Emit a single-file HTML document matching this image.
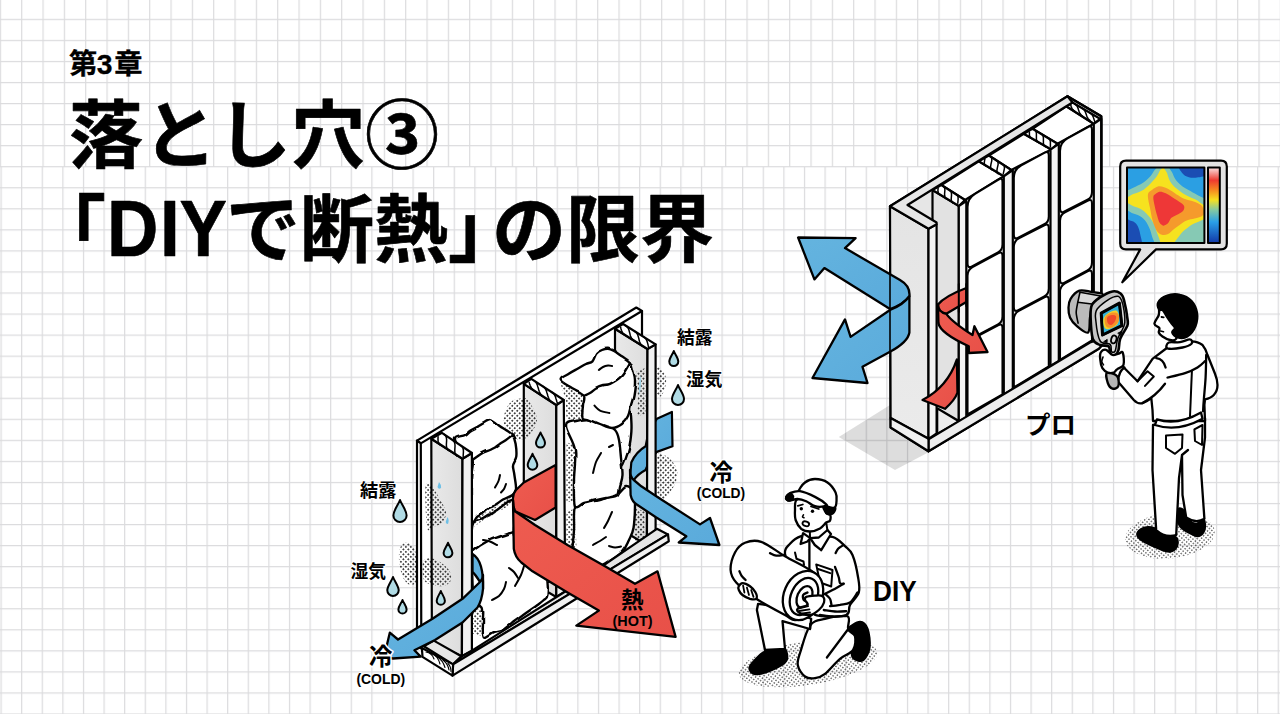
<!DOCTYPE html>
<html lang="ja">
<head>
<meta charset="utf-8">
<title>第3章 落とし穴③ 「DIYで断熱」の限界</title>
<style>
html,body{margin:0;padding:0;background:#fff;}
body{width:1280px;height:714px;overflow:hidden;position:relative;font-family:"Liberation Sans","Noto Sans CJK JP",sans-serif;}
svg{position:absolute;left:0;top:0;display:block;}
text{font-family:"Liberation Sans","Noto Sans CJK JP",sans-serif;}
</style>
</head>
<body>
<svg width="1280" height="714" viewBox="0 0 1280 714">
<defs>
<pattern id="grid" width="21.333" height="21.05" patternUnits="userSpaceOnUse" x="-0.2" y="-2.25">
<path d="M0.5 0V21.05M0 0.5H21.333" stroke="#dbdbdd" stroke-width="1.4" fill="none"/>
</pattern>
<pattern id="grid2" width="20.6" height="21.05" patternUnits="userSpaceOnUse" x="0.5" y="-2.25">
<path d="M0.5 0V21.05M0 0.5H20.6" stroke="#dbdbdd" stroke-width="1.4" fill="none"/>
</pattern>
<pattern id="dots" width="3.1" height="3.1" patternUnits="userSpaceOnUse" patternTransform="rotate(45)">
<circle cx="1.55" cy="1.55" r="0.66" fill="#000"/>
</pattern>
<pattern id="dots2" width="3.5" height="3.5" patternUnits="userSpaceOnUse" patternTransform="rotate(45)">
<circle cx="1.75" cy="1.75" r="0.85" fill="#000"/>
</pattern>
<linearGradient id="gface" x1="0" y1="0" x2="1" y2="0">
<stop offset="0" stop-color="#e9e9e9"/><stop offset="1" stop-color="#dddddd"/>
</linearGradient>
<linearGradient id="gpanel" x1="0" y1="0" x2="0" y2="1">
<stop offset="0" stop-color="#e4e4e4"/><stop offset="1" stop-color="#ebebeb"/>
</linearGradient>
<linearGradient id="gblue" x1="0" y1="0" x2="1" y2="1">
<stop offset="0" stop-color="#64b4df"/><stop offset="1" stop-color="#5aaadb"/>
</linearGradient>
<linearGradient id="gred" x1="0" y1="0" x2="1" y2="1">
<stop offset="0" stop-color="#ee5c50"/><stop offset="1" stop-color="#e85048"/>
</linearGradient>
<linearGradient id="gbar" x1="0" y1="0" x2="0" y2="1">
<stop offset="0" stop-color="#fbe3e3"/><stop offset="0.17" stop-color="#ee3a30"/><stop offset="0.3" stop-color="#f58a20"/><stop offset="0.43" stop-color="#f5e020"/><stop offset="0.56" stop-color="#86c9a0"/><stop offset="0.72" stop-color="#2aa0e8"/><stop offset="1" stop-color="#1238a8"/>
</linearGradient>
<filter id="rough" x="-5%" y="-5%" width="110%" height="110%">
<feTurbulence type="fractalNoise" baseFrequency="0.07" numOctaves="1" seed="3" result="n"/>
<feDisplacementMap in="SourceGraphic" in2="n" scale="3.6" xChannelSelector="R" yChannelSelector="G"/>
</filter>
</defs>
<rect width="1280" height="714" fill="#ffffff"/>
<rect width="1280" height="167" fill="url(#grid)"/>
<rect y="167" width="1280" height="547" fill="url(#grid2)"/>
<!-- TITLE -->
<g id="title" fill="#000" stroke="#000" stroke-width="0.6" stroke-linejoin="round" font-weight="700">
<text x="69 96.8 114.2" y="73.6" font-size="28.3" stroke-width="0.3">第3章</text>
<text x="69" y="162" font-size="74">落とし穴③</text>
<text y="255.5" font-size="74"><tspan x="32">「</tspan><tspan x="226">で断熱」</tspan><tspan x="492">の限界</tspan></text>
<text transform="scale(0.9 1)" x="119 177.9 199.4" y="255.7" font-size="79">DIY</text>
</g>
<!-- DIY WALL -->
<g id="diywall" stroke="#000" stroke-width="2.2" stroke-linejoin="round" stroke-linecap="round" fill="none">
<!-- back sheathing -->
<polygon points="417,440.6 636.3,307.5 642,311 642,545 470,660 417,648" fill="#fff" stroke="none"/>
<polygon points="417,440.6 636.3,307.5 642,311 420.8,443.4" fill="#fff"/>
<polygon points="417,440.6 420.8,443.4 421.3,648.5 417,646" fill="#fff"/>
<path d="M642,311 V338"/>
<!-- halftone patches on back panel -->
<g stroke="none" fill="url(#dots2)">
<path d="M505.0,412.0 C506.3,408.2 508.8,403.2 512.0,401.0 C515.2,398.8 520.5,397.8 524.0,399.0 C527.5,400.2 530.8,404.3 533.0,408.0 C535.2,411.7 537.3,416.8 537.0,421.0 C536.7,425.2 533.8,429.8 531.0,433.0 C528.2,436.2 523.5,439.8 520.0,440.0 C516.5,440.2 512.7,436.7 510.0,434.0 C507.3,431.3 504.8,427.7 504.0,424.0 C503.2,420.3 503.7,415.8 505.0,412.0Z"/>
</g>
<!-- END STUD (right) gray face -->
<polygon points="615,328.8 647.5,349 646.9,545 615,526" fill="url(#gface)"/>
<!-- right blue arrow: back piece -->
<path d="M671.9,411.9 L656.9,418.8 Q648,430 645.6,446.3 Q636,452 631.3,462.5 L630,478 L633.8,480 Q638,474 645.6,470 Q650,458 656.9,451.9 L672.5,446.3 Z" fill="url(#gblue)"/>
<!-- end stud narrow face + cap -->
<polygon points="647.5,349 655.6,344.4 655.6,540 646.9,545" fill="#f1f1f1"/>
<polygon points="615,328.8 623.1,324 655.6,344.4 647.5,349" fill="#fff"/>
<path d="M620.7,327.4 L621.0,328.9 L621.4,330.3 L622.0,331.6 L622.6,332.9 L623.6,334.0 L624.8,334.9 M625.7,325.6 L626.9,326.6 L627.8,327.7 L628.5,328.9 L629.0,330.3 L629.4,331.7 L629.8,333.1 L630.1,334.6 L630.5,336.0 L631.1,337.3 L631.7,338.6 L632.7,339.7 L633.9,340.6 M634.8,331.3 L636.0,332.3 L636.9,333.4 L637.6,334.6 L638.1,336.0 L638.5,337.4 L638.9,338.8 L639.2,340.3 L639.6,341.7 L640.2,343.0 L640.8,344.3 L641.8,345.4 L643.0,346.3 M643.9,337.1 L645.1,338.0 L646.0,339.1 L646.7,340.4 L647.2,341.7 L647.6,343.1 L648.0,344.6 L648.3,346.0 L648.7,347.4" stroke-width="1.5"/>
<!-- BAY 2 batts -->
<g fill="#fff" filter="url(#rough)" stroke-width="2.4">
<!-- B2c bottom -->
<path d="M575.0,507.0 C577.0,502.5 581.8,504.2 586.0,503.0 C590.2,501.8 594.8,501.5 600.0,500.0 C605.2,498.5 612.7,496.3 617.0,494.0 C621.3,491.7 623.2,486.3 626.0,486.0 C628.8,485.7 632.5,488.8 634.0,492.0 C635.5,495.2 635.1,499.0 635.0,505.0 C634.9,511.0 634.5,522.2 633.5,528.0 C632.5,533.8 630.9,536.0 629.0,540.0 C627.1,544.0 626.0,548.0 622.0,552.0 C618.0,556.0 610.3,560.7 605.0,564.0 C599.7,567.3 595.0,569.0 590.0,572.0 C585.0,575.0 578.0,584.0 575.0,582.0 C572.0,580.0 572.2,568.7 572.0,560.0 C571.8,551.3 573.5,538.8 574.0,530.0 C574.5,521.2 573.0,511.5 575.0,507.0Z"/>
<!-- B2x filler behind B2b -->
<path d="M610.0,424.0 C611.3,421.2 618.8,421.7 622.0,419.0 C625.2,416.3 627.9,407.0 629.5,408.0 C631.1,409.0 631.3,419.7 631.5,425.0 C631.7,430.3 631.1,435.5 630.5,440.0 C629.9,444.5 629.5,447.5 628.0,452.0 C626.5,456.5 623.3,467.0 621.5,467.0 C619.7,467.0 618.2,457.2 617.0,452.0 C615.8,446.8 615.2,440.7 614.0,436.0 C612.8,431.3 608.7,426.8 610.0,424.0Z"/>
<!-- B2b middle -->
<path d="M566.0,426.0 C566.2,421.2 572.0,422.1 576.0,421.0 C580.0,419.9 585.5,419.2 590.0,419.5 C594.5,419.8 598.8,421.2 603.0,423.0 C607.2,424.8 612.3,427.2 615.0,430.0 C617.7,432.8 618.0,435.3 619.0,440.0 C620.0,444.7 620.4,452.2 621.0,458.0 C621.6,463.8 622.7,470.3 622.5,475.0 C622.3,479.7 620.8,482.7 620.0,486.0 C619.2,489.3 619.8,493.0 617.5,495.0 C615.2,497.0 609.8,497.1 606.0,498.0 C602.2,498.9 598.7,499.7 595.0,500.5 C591.3,501.3 587.3,502.1 584.0,503.0 C580.7,503.9 576.7,509.8 575.0,506.0 C573.3,502.2 574.0,489.3 574.0,480.0 C574.0,470.7 576.3,459.0 575.0,450.0 C573.7,441.0 565.8,430.8 566.0,426.0Z"/>
<!-- B2a top: top face + front -->
<path d="M560.6,380.0 C560.1,377.6 566.0,375.7 568.8,373.8 C571.6,371.9 574.6,370.4 577.5,368.8 C580.4,367.2 583.5,365.2 586.0,364.0 C588.5,362.8 590.8,363.0 592.5,361.3 C594.2,359.6 594.7,355.7 596.3,353.8 C597.9,351.9 600.0,350.8 602.0,350.0 C604.0,349.2 606.0,348.6 608.0,348.8 C610.0,349.0 612.0,350.0 614.0,351.0 C616.0,352.0 617.3,353.1 620.0,355.0 C622.7,356.9 627.8,359.8 630.0,362.5 C632.2,365.2 632.2,367.9 633.0,371.0 C633.8,374.1 634.9,376.8 635.0,381.0 C635.1,385.2 634.2,392.0 633.5,396.0 C632.8,400.0 631.9,401.7 631.0,405.0 C630.1,408.3 629.5,412.8 628.0,416.0 C626.5,419.2 624.7,422.0 622.0,424.0 C619.3,426.0 615.7,428.0 612.0,428.0 C608.3,428.0 604.0,425.5 600.0,424.0 C596.0,422.5 590.9,420.1 588.0,419.0 C585.1,417.9 583.3,419.7 582.5,417.5 C581.7,415.3 582.8,409.8 583.0,406.0 C583.2,402.2 585.6,398.0 583.8,395.0 C582.0,392.0 575.9,390.5 572.0,388.0 C568.1,385.5 561.1,382.4 560.6,380.0Z"/>
<path d="M630.0,362.5 C628.5,364.8 624.6,372.8 621.3,376.3 C618.0,379.9 613.0,382.4 610.0,383.8 C607.0,385.2 605.3,384.4 603.0,385.0 C600.7,385.6 598.5,386.3 596.3,387.5 C594.1,388.7 592.1,390.8 590.0,392.0 C587.9,393.2 584.8,394.5 583.8,395.0" fill="none"/>
</g>
<path d="M560.6,381.0 C561.7,379.1 568.1,386.0 572.0,388.5 C575.9,391.0 582.0,392.9 583.8,396.0 C585.6,399.1 583.2,403.3 583.0,407.0 C582.8,410.7 584.0,415.8 582.5,418.0 C581.0,420.2 576.6,419.9 574.0,420.0 C571.4,420.1 568.4,421.8 567.0,418.5 C565.6,415.2 566.6,406.2 565.5,400.0 C564.4,393.8 559.5,382.9 560.6,381.0Z" fill="url(#dots2)" stroke="none"/>
<path d="M566.5,442 L575,446 L575.5,502 L566.5,502 Z M566.5,511 L575,509 L576.5,548 L566.5,549 Z" fill="url(#dots2)" stroke="none"/>
<path d="M636,372 L645,368 L645.5,414 L637,416 Q639,395 636,372 Z M634.5,507 L645,512 L645,542 L635,543 Z" fill="url(#dots2)" stroke="none"/>
<g stroke-width="2">
<path d="M598.8,370.0 C599.5,369.5 601.5,367.7 603.0,367.0 C604.5,366.3 606.5,365.8 608.0,365.6 C609.5,365.4 611.3,365.9 612.0,366.0"/>
<path d="M594.4,405.6 C595.3,406.4 597.5,409.4 600.0,410.6 C602.5,411.8 607.8,412.6 609.4,413.0"/>
<path d="M593.0,473.0 C593.5,471.2 594.7,465.3 596.0,462.0 C597.3,458.7 600.2,454.5 601.0,453.0"/><path d="M609,447 l4,-2"/>
<path d="M604.0,528.0 C604.7,526.8 606.7,523.7 608.0,521.0 C609.3,518.3 611.3,513.5 612.0,512.0"/><path d="M593.0,545.0 C594.2,544.3 597.8,542.3 600.0,541.0 C602.2,539.7 605.0,537.7 606.0,537.0"/><path d="M609.0,546.0 C610.0,546.2 613.0,547.4 615.0,547.5 C617.0,547.6 620.0,546.7 621.0,546.5"/>
</g>
<!-- MID STUD gray face -->
<polygon points="523.8,383.8 556.3,405 556.3,597 523.8,578" fill="url(#gface)"/>
<!-- BAY 1 batts -->
<g fill="#fff" filter="url(#rough)" stroke-width="2.4">
<!-- B1b lower block (top face + front) -->
<path d="M472.5,525.0 C474.3,518.0 478.9,520.5 483.0,518.0 C487.1,515.5 492.1,513.0 497.0,510.0 C501.9,507.0 509.3,499.2 512.5,500.0 C515.7,500.8 515.8,509.7 516.0,515.0 C516.2,520.3 513.0,526.5 514.0,532.0 C515.0,537.5 518.5,543.3 522.0,548.0 C525.5,552.7 531.0,555.5 535.0,560.0 C539.0,564.5 543.9,569.2 546.0,575.0 C548.1,580.8 547.9,590.8 547.5,595.0 C547.1,599.2 545.5,598.3 543.8,600.0 C542.1,601.7 540.5,602.8 537.5,605.0 C534.5,607.2 529.8,610.3 526.0,613.0 C522.2,615.7 518.7,618.5 515.0,621.3 C511.3,624.1 507.3,628.0 503.8,630.0 C500.3,632.0 497.3,631.8 494.0,633.0 C490.7,634.2 485.6,639.7 483.8,637.5 C482.0,635.3 483.2,625.0 483.0,620.0 C482.8,615.0 484.0,610.8 482.5,607.5 C481.0,604.2 475.8,607.9 474.0,600.0 C472.2,592.1 472.2,572.5 472.0,560.0 C471.8,547.5 470.7,532.0 472.5,525.0Z"/>
<path d="M472.5,551.0 C473.9,550.0 478.1,546.8 481.0,545.0 C483.9,543.2 486.8,541.4 490.0,540.0 C493.2,538.6 496.2,537.8 500.0,536.5 C503.8,535.2 510.4,533.2 512.5,532.5" fill="none"/>
<!-- B1a upper block -->
<path d="M455.0,438.8 C455.5,436.3 462.4,436.4 465.0,435.0 C467.6,433.6 468.4,431.9 470.5,430.5 C472.6,429.1 475.2,428.1 477.5,426.9 C479.8,425.6 481.9,424.1 484.0,423.0 C486.1,421.9 488.2,420.1 490.0,420.0 C491.8,419.9 493.3,421.4 495.0,422.5 C496.7,423.6 498.2,425.1 500.0,426.3 C501.8,427.6 503.9,428.6 506.0,430.0 C508.1,431.4 510.9,432.7 512.5,435.0 C514.1,437.3 515.0,440.2 515.6,443.8 C516.2,447.4 516.7,452.8 516.3,456.3 C515.9,459.8 513.3,461.9 513.0,465.0 C512.7,468.1 513.9,471.0 514.4,475.0 C514.9,479.0 516.3,485.7 516.0,489.0 C515.7,492.3 514.7,493.2 512.5,495.0 C510.3,496.8 505.9,497.8 503.0,499.5 C500.1,501.2 497.5,503.6 495.0,505.0 C492.5,506.4 490.1,506.8 488.0,508.0 C485.9,509.2 484.3,511.2 482.5,512.5 C480.7,513.8 478.8,514.8 477.0,516.0 C475.2,517.2 473.0,526.0 472.0,520.0 C471.0,514.0 470.9,490.0 471.0,480.0 C471.1,470.0 474.0,465.0 472.5,460.0 C471.0,455.0 464.9,453.5 462.0,450.0 C459.1,446.5 454.5,441.3 455.0,438.8Z"/>
<path d="M512.5,435.0 C511.4,435.8 508.1,438.5 506.0,440.0 C503.9,441.5 501.8,442.6 500.0,443.8 C498.2,445.1 496.7,446.5 495.0,447.5 C493.3,448.5 492.3,448.9 490.0,450.0 C487.7,451.1 484.2,452.1 481.3,453.8 C478.4,455.5 474.0,459.0 472.5,460.0" fill="none"/>
</g>
<path d="M472.5,521.5 C474.2,519.2 478.9,516.6 483.0,514.0 C487.1,511.4 492.1,508.9 497.0,506.0 C501.9,503.1 509.7,497.2 512.5,496.5 C515.3,495.8 516.6,499.3 514.0,502.0 C511.4,504.7 502.2,509.4 497.0,512.5 C491.8,515.6 487.1,518.0 483.0,520.5 C478.9,523.0 474.2,527.3 472.5,527.5 C470.8,527.7 470.8,523.8 472.5,521.5Z" fill="url(#dots2)" stroke="none"/>
<path d="M472.5,611 L482.5,608 L483.5,636 L472.5,634 Z" fill="url(#dots2)" stroke="none"/>
<g stroke-width="2">
<path d="M500.0,475.0 C499.8,476.0 499.3,478.9 498.5,481.0 C497.7,483.1 495.6,486.4 495.0,487.5"/><path d="M506.0,484.0 C505.7,484.8 504.8,487.6 504.0,489.0 C503.2,490.4 501.5,491.9 501.0,492.5"/>
<path d="M483.0,540.0 C484.2,540.2 487.7,540.7 490.0,541.5 C492.3,542.3 495.8,544.4 497.0,545.0"/>
<path d="M492.0,600.0 C493.2,599.3 497.0,597.8 499.0,596.0 C501.0,594.2 502.8,591.3 504.0,589.0 C505.2,586.7 505.7,583.2 506.0,582.0"/><path d="M509.0,568.0 C509.8,568.7 512.5,570.3 514.0,572.0 C515.5,573.7 517.3,577.0 518.0,578.0"/>
<path d="M515.0,586.0 C516.0,584.2 519.5,578.3 521.0,575.0 C522.5,571.7 523.5,567.5 524.0,566.0"/>
</g>
<!-- halftone on mid stud face -->
<path d="M524.8,399.0 C526.2,394.2 531.0,404.3 533.0,408.0 C535.0,411.7 537.3,416.8 537.0,421.0 C536.7,425.2 533.0,430.3 531.0,433.0 C529.0,435.7 525.8,442.7 524.8,437.0 C523.8,431.3 523.4,403.8 524.8,399.0Z" fill="url(#dots2)" stroke="none"/>
<!-- red arrow back piece -->
<path d="M555.6,465 L523.8,482.5 L516,490 Q512.5,494 513,500 Q513,507 515,511.3 L535,520 L555.6,507.5 Z" fill="url(#gred)"/>
<!-- mid stud narrow face + cap -->
<polygon points="556.3,405 563.8,400 565.2,591.5 556.3,597" fill="#f1f1f1"/>
<polygon points="523.8,383.8 531.3,378.8 563.8,400 556.3,405" fill="#fff"/>
<path d="M529.2,382.4 L529.6,383.9 L530.1,385.3 L530.7,386.7 L531.4,388.0 L532.3,389.2 L533.5,390.2 M533.9,380.5 L535.1,381.5 L536.1,382.6 L536.8,383.9 L537.4,385.3 L537.8,386.8 L538.3,388.3 L538.7,389.8 L539.2,391.3 L539.8,392.7 L540.5,394.0 L541.4,395.1 L542.6,396.1 M543.0,386.4 L544.2,387.4 L545.2,388.6 L545.9,389.9 L546.5,391.3 L546.9,392.7 L547.4,394.2 L547.8,395.7 L548.3,397.2 L548.9,398.6 L549.6,399.9 L550.5,401.1 L551.8,402.0 M552.1,392.4 L553.3,393.3 L554.3,394.5 L555.0,395.8 L555.6,397.2 L556.0,398.7 L556.5,400.2 L556.9,401.7 L557.4,403.1" stroke-width="1.5"/>
<!-- LEFT STUD -->
<polygon points="431.3,438.8 462.5,458.8 461.9,656.3 431.9,641.9" fill="url(#gface)"/>
<polygon points="462.5,458.8 471.9,453 471.9,650.6 461.9,656.3" fill="#f1f1f1"/>
<polygon points="431.3,438.8 441.9,432.8 471.9,453 462.5,458.8" fill="#fff"/>
<path d="M438.1,436.8 L438.0,438.4 L438.0,439.9 L438.2,441.4 L438.6,442.7 L439.3,443.9 L440.3,444.9 M444.3,434.4 L445.3,435.4 L446.0,436.5 L446.4,437.9 L446.6,439.3 L446.6,440.9 L446.5,442.5 L446.4,444.1 L446.4,445.6 L446.6,447.1 L447.0,448.4 L447.7,449.6 L448.7,450.5 M452.7,440.1 L453.7,441.0 L454.4,442.2 L454.8,443.5 L455.0,445.0 L455.0,446.5 L454.9,448.1 L454.8,449.7 L454.8,451.2 L455.0,452.7 L455.4,454.0 L456.1,455.2 L457.1,456.2 M461.1,445.7 L462.1,446.7 L462.8,447.9 L463.2,449.2 L463.4,450.7 L463.4,452.2 L463.3,453.8 L463.2,455.4 L463.2,456.9" stroke-width="1.5"/>
<!-- halftone on left stud & outside -->
<g stroke="none" fill="url(#dots2)">
<path d="M426.0,484.0 C427.2,481.2 430.7,485.5 433.0,488.0 C435.3,490.5 437.8,494.9 440.0,499.0 C442.2,503.1 445.7,508.5 446.0,512.5 C446.3,516.5 444.2,520.6 442.0,523.0 C439.8,525.4 435.4,526.0 433.0,527.0 C430.6,528.0 428.8,532.7 427.5,529.0 C426.2,525.3 425.8,512.5 425.5,505.0 C425.2,497.5 424.8,486.8 426.0,484.0Z"/>
<path d="M423.0,562.0 C424.0,558.3 427.2,558.0 430.0,558.0 C432.8,558.0 436.8,560.0 440.0,562.0 C443.2,564.0 447.2,567.0 449.0,570.0 C450.8,573.0 451.8,577.3 451.0,580.0 C450.2,582.7 447.0,585.2 444.0,586.0 C441.0,586.8 436.3,586.0 433.0,585.0 C429.7,584.0 425.7,583.8 424.0,580.0 C422.3,576.2 422.0,565.7 423.0,562.0Z"/>
<path d="M400.0,548.0 C401.0,545.2 403.2,543.5 405.0,543.0 C406.8,542.5 409.2,543.5 411.0,545.0 C412.8,546.5 414.7,547.8 415.5,552.0 C416.3,556.2 416.0,564.8 416.0,570.0 C416.0,575.2 416.8,580.7 415.5,583.0 C414.2,585.3 410.2,585.3 408.0,584.0 C405.8,582.7 403.5,579.0 402.0,575.0 C400.5,571.0 399.3,564.5 399.0,560.0 C398.7,555.5 399.0,550.8 400.0,548.0Z"/>
</g>
<!-- BOTTOM PLATE -->
<polygon points="423.8,646.3 433.8,640.6 461.3,656.3 453.1,664.4" fill="#e6e6e6"/>
<polygon points="471.9,650.6 565.2,591.5 656.9,528.8 668,534.4 453.1,664.4 461.9,656.3" fill="#e6e6e6"/>
<polygon points="453.1,664.4 668,534.4 668.8,541.3 452.5,675.6" fill="#f0f0f0"/>
<polygon points="421.9,648 453.1,664.4 452.5,675.6 422.5,656.9" fill="#fff"/>
<path d="M426,652 q6,1 8,7 M431,653 q7,3 9,11 M437,656.5 q6,4 8,11 M443,660 q5,4 6,10 M448,663.5 q3,3 3,8" stroke-width="1.1"/>
<!-- halftone outside right of end stud -->
<g stroke="none" fill="url(#dots2)">
<path d="M657.0,368.0 C657.8,364.0 660.5,368.3 662.0,370.0 C663.5,371.7 665.5,375.0 666.0,378.0 C666.5,381.0 665.8,385.0 665.0,388.0 C664.2,391.0 662.3,395.0 661.0,396.0 C659.7,397.0 657.7,398.7 657.0,394.0 C656.3,389.3 656.2,372.0 657.0,368.0Z"/>
<path d="M657.0,456.0 C658.2,451.8 661.7,454.3 664.0,455.0 C666.3,455.7 668.8,457.5 671.0,460.0 C673.2,462.5 676.2,466.3 677.0,470.0 C677.8,473.7 677.2,478.3 676.0,482.0 C674.8,485.7 672.0,489.2 670.0,492.0 C668.0,494.8 666.0,498.0 664.0,499.0 C662.0,500.0 659.2,501.2 658.0,498.0 C656.8,494.8 657.2,487.0 657.0,480.0 C656.8,473.0 655.8,460.2 657.0,456.0Z"/>
</g>
</g>

<!-- DIY ARROWS -->
<g id="diyarrows" stroke="#000" stroke-width="2.3" stroke-linejoin="round" stroke-linecap="round">
<!-- right blue arrow front piece -->
<path d="M630,470 L630.6,495 Q632,502 637.5,505 L656.3,517.5 L686.3,536.3 L678.8,542.5 L719.4,545 L710,518 L700,524.4 L656.3,496.3 L641.3,486.3 L633.8,480 Q630,477 630,470 Z" fill="url(#gblue)"/>
<!-- left blue arrow -->
<path d="M472.5,554 Q484,561 483,589 L480,582 Q475,574 472.5,572 Z" fill="url(#gblue)"/>
<path d="M483,575 L483,588.8 Q482,600 477.5,607.5 L462.5,622.5 L435,640 L414.4,650.3 L420.7,656.6 L393,658.5 L384,657 L389.8,632.7 L398,639.5 L432.5,618.8 L462.5,598.8 L480,582 Q483,579 483,575 Z" fill="url(#gblue)"/>
<!-- red arrow front piece -->
<path d="M513,500 L513.8,548.8 Q515,557 521.3,562.5 L532.5,571.3 L567.5,592.5 L598.8,610.6 L576.3,625.6 L675.6,636.9 L657.5,571.3 L635,583.8 L605,566.3 L567.5,545 L535,525 L515,511.3 Q513,507 513,500 Z" fill="url(#gred)"/>
</g>

<!-- PRO WALL -->
<g id="prowall" stroke="#000" stroke-width="2.2" stroke-linejoin="round" stroke-linecap="round" fill="none">
<!-- floor shadow -->
<polygon points="838.8,437 890,405 930,451.5 895,470" fill="#000" fill-opacity="0.135" stroke="none"/>
<!-- wall silhouette (back) -->
<polygon points="890,206.3 1067.5,96.3 1101.3,116.3 1101.3,346 1098.8,348.8 928.5,451.3 890.6,427.5" fill="#e6e6e6"/>
<!-- stud 1 side face (gray) -->
<polygon points="932.5,190 958.8,205.8 958.8,421 937.5,408.5 932.5,408" fill="#e2e2e2"/>
<polygon points="937.5,408.8 957.5,420.8 957.5,422 937.5,433.5" fill="#ececec" stroke-width="1.6"/>
<!-- white top faces of insulation columns -->
<polygon points="941.3,185 978.8,161.3 1003.8,176.3 965,200" fill="#fff"/>
<polygon points="988.8,155.5 1023.8,133.8 1051.3,149.5 1011.3,170" fill="#fff"/>
<polygon points="1032.5,128.8 1066.3,106.3 1093.8,123.8 1057.5,143.8" fill="#fff"/>
<!-- stud caps -->
<g fill="#fff">
<polygon points="932.5,190 941.3,185 965,200 958.8,206"/>
<polygon points="978.8,161.3 988.8,155.5 1011.3,170 1003.8,176.3"/>
<polygon points="1023.8,133.8 1032.5,128.8 1057.5,143.8 1051.3,149.5"/>
<polygon points="1066.3,106.3 1072.5,102.5 1100,118.8 1093.8,123.8"/>
</g>
<g stroke-width="1.5">
<path d="M938.1,188.2 L938.0,189.5 L937.9,190.7 L938.0,191.8 L938.3,192.9 L938.8,193.8 L939.6,194.5 M943.2,186.2 L944.0,186.9 L944.5,187.8 L944.8,188.9 L944.9,190.0 L944.8,191.2 L944.7,192.4 L944.6,193.7 L944.6,194.9 L944.7,196.0 L944.9,197.1 L945.4,198.0 L946.2,198.7 M949.8,190.4 L950.6,191.1 L951.2,192.0 L951.4,193.1 L951.5,194.2 L951.5,195.4 L951.4,196.7 L951.3,197.9 L951.2,199.1 L951.3,200.2 L951.6,201.3 L952.1,202.2 L952.9,202.9 M956.5,194.6 L957.3,195.3 L957.8,196.2 L958.1,197.3 L958.1,198.4 L958.1,199.6 L958.0,200.8 L957.9,202.1 L957.8,203.3"/>
<path d="M984.9,159.1 L984.6,160.4 L984.4,161.7 L984.3,162.9 L984.4,164.0 L984.8,164.9 L985.5,165.7 M990.6,156.7 L991.3,157.4 L991.7,158.3 L991.8,159.4 L991.8,160.6 L991.5,161.9 L991.2,163.2 L990.9,164.5 L990.7,165.8 L990.6,167.0 L990.7,168.1 L991.1,169.0 L991.8,169.7 M996.9,160.7 L997.6,161.4 L998.0,162.4 L998.1,163.4 L998.1,164.6 L997.8,165.9 L997.5,167.2 L997.2,168.6 L997.0,169.8 L996.9,171.1 L997.0,172.1 L997.4,173.1 L998.1,173.8 M1003.2,164.8 L1003.9,165.5 L1004.3,166.4 L1004.4,167.5 L1004.4,168.7 L1004.1,170.0 L1003.8,171.3 L1003.5,172.6 L1003.3,173.9"/>
<path d="M1029.4,132.1 L1029.4,133.3 L1029.4,134.5 L1029.5,135.6 L1029.9,136.7 L1030.4,137.6 L1031.3,138.3 M1034.5,130.0 L1035.4,130.7 L1035.9,131.6 L1036.3,132.7 L1036.4,133.8 L1036.4,135.0 L1036.4,136.2 L1036.4,137.5 L1036.4,138.7 L1036.5,139.8 L1036.9,140.9 L1037.4,141.8 L1038.3,142.5 M1041.5,134.2 L1042.4,134.9 L1042.9,135.8 L1043.3,136.9 L1043.4,138.0 L1043.4,139.2 L1043.4,140.5 L1043.4,141.7 L1043.4,142.9 L1043.5,144.0 L1043.9,145.1 L1044.4,146.0 L1045.3,146.7 M1048.5,138.4 L1049.4,139.1 L1049.9,140.0 L1050.3,141.1 L1050.4,142.2 L1050.4,143.4 L1050.4,144.7 L1050.4,145.9 L1050.4,147.1"/>
<path d="M1070.8,105.2 L1071.2,106.4 L1071.6,107.5 L1072.1,108.6 L1072.7,109.6 L1073.5,110.4 L1074.5,111.2 M1074.7,103.8 L1075.7,104.6 L1076.5,105.4 L1077.2,106.4 L1077.7,107.5 L1078.1,108.6 L1078.5,109.8 L1078.9,110.9 L1079.3,112.1 L1079.8,113.1 L1080.4,114.1 L1081.2,115.0 L1082.2,115.8 M1082.4,108.4 L1083.4,109.1 L1084.2,110.0 L1084.9,111.0 L1085.4,112.1 L1085.8,113.2 L1086.2,114.3 L1086.6,115.5 L1087.0,116.6 L1087.5,117.7 L1088.1,118.7 L1088.9,119.6 L1090.0,120.3 M1090.1,112.9 L1091.1,113.7 L1091.9,114.6 L1092.6,115.6 L1093.1,116.6 L1093.5,117.8 L1093.9,118.9 L1094.3,120.1 L1094.7,121.2"/>
</g>
<!-- narrow faces of studs -->
<g fill="#f3f3f3">
<polygon points="958.8,206 966.3,201 966.3,417.5 958.8,421.5"/>
<polygon points="1003.8,176.3 1012.8,170 1012.8,389 1003.8,394.5"/>
<polygon points="1050.5,149.5 1058.8,143.8 1058.8,361 1050.5,366"/>
<polygon points="1093.8,123.8 1101.3,118.8 1101.3,336 1093.8,340.5"/>
</g>
<!-- insulation blocks -->
<g fill="#fff" stroke-width="2.1">
<path d="M967.5,207.0 Q967.5,198.5 975.0,193.9 L998.5,179.5 Q1002.5,177.0 1002.5,182.0 L1002.5,244.5 Q1002.5,250.0 998.0,252.4 L972.0,266.4 Q967.5,268.8 967.5,263.3 Z"/>
<path d="M967.5,275.8 Q967.5,269.8 972.5,267.1 L998.5,253.1 Q1002.5,251.0 1002.5,256.0 L1002.5,316.5 Q1002.5,322.0 998.0,324.4 L972.0,338.2 Q967.5,340.6 967.5,335.1 Z"/>
<path d="M967.5,347.4 Q967.5,341.4 972.5,338.8 L998.5,325.1 Q1002.5,323.0 1002.5,328.0 L1002.5,394.3 L967.5,414.5 Z"/>
<path d="M1013.8,178.0 Q1013.8,169.5 1021.3,165.4 L1044.8,152.7 Q1048.8,150.5 1048.8,155.5 L1048.8,216.5 Q1048.8,222.0 1044.3,224.3 L1018.3,237.7 Q1013.8,240.0 1013.8,234.5 Z"/>
<path d="M1013.8,247.0 Q1013.8,241.0 1018.8,238.4 L1044.8,225.1 Q1048.8,223.0 1048.8,228.0 L1048.8,288.5 Q1048.8,294.0 1044.3,296.4 L1018.3,310.1 Q1013.8,312.5 1013.8,307.0 Z"/>
<path d="M1013.8,319.5 Q1013.8,313.5 1018.8,310.9 L1044.8,297.1 Q1048.8,295.0 1048.8,300.0 L1048.8,366.5 L1013.8,387.5 Z"/>
<path d="M1060.0,151.0 Q1060.0,142.5 1067.5,138.4 L1088.0,127.0 Q1092.0,124.8 1092.0,129.8 L1092.0,192.0 Q1092.0,197.5 1087.5,199.8 L1064.5,211.5 Q1060.0,213.8 1060.0,208.3 Z"/>
<path d="M1060.0,220.8 Q1060.0,214.8 1065.0,212.3 L1088.0,200.5 Q1092.0,198.5 1092.0,203.5 L1092.0,262.5 Q1092.0,268.0 1087.5,270.4 L1064.5,282.6 Q1060.0,285.0 1060.0,279.5 Z"/>
<path d="M1060.0,292.0 Q1060.0,286.0 1065.0,283.3 L1088.0,271.1 Q1092.0,269.0 1092.0,274.0 L1092.0,340.5 L1060.0,359.8 Z"/>
</g>
<!-- bottom plate -->
<polygon points="928.5,439.4 1090,342.5 1101.3,339 1101.3,346 1098.8,348.8 928.5,451.3" fill="#ededed"/>
<!-- left gray end panel -->
<polygon points="890,206.3 928.5,228.8 928.5,438.8 890.6,418" fill="url(#gpanel)"/>
<polygon points="890.6,418 928.5,438.8 928.5,451.3 890.6,427.5" fill="#f0f0f0"/>
<polygon points="928.5,228.8 936.6,224.3 936.6,433.5 928.5,438.8" fill="#f4f4f4"/>
<!-- top bands (L-shaped trim) -->
<polygon points="890,206.3 1067.5,96.3 1072.5,102.5 1066.3,106.3 907.5,205 936.6,222.5 936.6,224.3 928.5,228.8" fill="#e6e6e6"/>
<polyline points="1067.5,96.3 1101.3,116.3 1101.3,346"/>
</g>

<!-- PRO ARROWS -->
<g id="proarrows" stroke="#000" stroke-width="2.3" stroke-linejoin="round" stroke-linecap="round">
<path d="M798.1,237.5 L855.6,238.1 L845,248.1 L900,280 Q910.5,286 909.4,296.3 Q903,305 890,309 L824.4,268.1 L814.4,279.4 Z" fill="url(#gblue)"/>
<path d="M909.4,296.3 L909.4,332.5 Q908,342 890,351.8 L862.5,366.8 L867.5,383 L812.5,378 L845,319.4 L850.6,336.9 L890,310 Q903,305 909.4,296.3 Z" fill="url(#gblue)"/>
<path d="M890,272 V352" stroke-width="1.6" fill="none"/>
<!-- red -->
<path d="M966.3,288 Q945,296 938,304.5 Q937,312 946.3,313.8 L966.3,302 Z" fill="url(#gred)"/>
<path d="M958.8,284 V312 M966.3,284 V306" fill="none" stroke-width="2"/>
<path d="M938,304.5 L938.4,323 Q940,333 968.8,346.3 L968.8,353 L987.5,352 L974.4,326.3 L972.5,335 C960,327 950,319 946.3,313.8 Q938,312 938,304.5 Z" fill="url(#gred)"/>
<path d="M956.9,359.4 C950,380 938,392 922.5,400 L945,408.8 Q955,400 957.5,392.5 Z" fill="url(#gred)"/>
</g>

<!-- THERMAL BUBBLE -->
<g id="bubble" stroke="#000" stroke-width="2.2" stroke-linejoin="round">
<path d="M1126,160.6 H1221 Q1226.8,160.6 1226.8,166.4 V243.6 Q1226.8,249.4 1221,249.4 H1156 L1122.3,282.3 L1140.2,249.4 H1126 Q1120.2,249.4 1120.2,243.6 V166.4 Q1120.2,160.6 1126,160.6 Z" fill="#e3e3e3"/>
<svg x="1127" y="167.5" width="77.4" height="75.5" viewBox="0 0 100 100" preserveAspectRatio="none">
<rect width="100" height="100" fill="#f6e21f" stroke="none"/>
<g stroke="none">
<path d="M-5.0,-5.0 C3.2,-12.2 36.2,-6.7 44.0,-5.0 C51.8,-3.3 43.3,1.7 42.0,5.0 C40.7,8.3 39.3,11.0 36.0,15.0 C32.7,19.0 26.7,25.7 22.0,29.0 C17.3,32.3 12.5,33.5 8.0,35.0 C3.5,36.5 -2.8,44.7 -5.0,38.0 C-7.2,31.3 -13.2,2.2 -5.0,-5.0Z" fill="#86c9b4"/>
<path d="M-5.0,-5.0 C2.0,-10.7 30.5,-6.8 37.0,-5.0 C43.5,-3.2 35.8,2.5 34.0,6.0 C32.2,9.5 29.3,13.0 26.0,16.0 C22.7,19.0 19.2,21.8 14.0,24.0 C8.8,26.2 -1.8,33.8 -5.0,29.0 C-8.2,24.2 -12.0,0.7 -5.0,-5.0Z" fill="#2b9fe3"/>
<path d="M50.0,-6.0 C41.0,-3.7 50.7,3.3 52.0,8.0 C53.3,12.7 54.7,17.7 58.0,22.0 C61.3,26.3 67.0,30.7 72.0,34.0 C77.0,37.3 82.3,39.7 88.0,42.0 C93.7,44.3 103.0,56.0 106.0,48.0 C109.0,40.0 115.3,3.0 106.0,-6.0 C96.7,-15.0 59.0,-8.3 50.0,-6.0Z" fill="#86c9b4"/>
<path d="M57.0,-6.0 C49.2,-3.7 57.5,3.7 59.0,8.0 C60.5,12.3 62.5,16.3 66.0,20.0 C69.5,23.7 73.3,26.8 80.0,30.0 C86.7,33.2 101.7,45.0 106.0,39.0 C110.3,33.0 114.2,1.5 106.0,-6.0 C97.8,-13.5 64.8,-8.3 57.0,-6.0Z" fill="#2b9fe3"/>
<path d="M68.0,-6.0 C62.2,-3.8 69.0,3.8 71.0,7.0 C73.0,10.2 76.5,12.0 80.0,13.0 C83.5,14.0 87.7,13.8 92.0,13.0 C96.3,12.2 103.7,11.2 106.0,8.0 C108.3,4.8 112.3,-3.7 106.0,-6.0 C99.7,-8.3 73.8,-8.2 68.0,-6.0Z" fill="#1b4db3"/>
<path d="M-6.0,50.0 C-3.3,41.0 5.3,50.7 10.0,52.0 C14.7,53.3 18.3,55.0 22.0,58.0 C25.7,61.0 29.3,65.7 32.0,70.0 C34.7,74.3 36.7,78.0 38.0,84.0 C39.3,90.0 47.3,102.3 40.0,106.0 C32.7,109.7 1.7,115.3 -6.0,106.0 C-13.7,96.7 -8.7,59.0 -6.0,50.0Z" fill="#86c9b4"/>
<path d="M-6.0,59.0 C-3.7,51.5 3.8,59.8 8.0,61.0 C12.2,62.2 15.8,63.5 19.0,66.0 C22.2,68.5 24.8,72.0 27.0,76.0 C29.2,80.0 31.0,85.0 32.0,90.0 C33.0,95.0 39.3,103.3 33.0,106.0 C26.7,108.7 0.5,113.8 -6.0,106.0 C-12.5,98.2 -8.3,66.5 -6.0,59.0Z" fill="#2b9fe3"/>
<path d="M-6.0,70.0 C-4.0,64.2 2.8,70.0 6.0,71.0 C9.2,72.0 11.2,73.2 13.0,76.0 C14.8,78.8 16.2,83.0 17.0,88.0 C17.8,93.0 21.8,103.0 18.0,106.0 C14.2,109.0 -2.0,112.0 -6.0,106.0 C-10.0,100.0 -8.0,75.8 -6.0,70.0Z" fill="#1b4db3"/>
<path d="M106.0,70.0 C103.3,64.5 94.7,71.3 90.0,73.0 C85.3,74.7 81.7,77.2 78.0,80.0 C74.3,82.8 70.7,85.7 68.0,90.0 C65.3,94.3 55.7,103.3 62.0,106.0 C68.3,108.7 98.7,112.0 106.0,106.0 C113.3,100.0 108.7,75.5 106.0,70.0Z" fill="#86c9b4"/>
<path d="M27.0,36.0 C27.5,31.7 30.8,30.8 33.0,29.0 C35.2,27.2 37.5,25.5 40.0,25.0 C42.5,24.5 45.3,25.2 48.0,26.0 C50.7,26.8 51.8,27.5 56.0,30.0 C60.2,32.5 68.0,38.5 73.0,41.0 C78.0,43.5 82.2,43.5 86.0,45.0 C89.8,46.5 93.8,47.8 96.0,50.0 C98.2,52.2 99.0,55.5 99.0,58.0 C99.0,60.5 99.5,63.0 96.0,65.0 C92.5,67.0 82.7,68.2 78.0,70.0 C73.3,71.8 71.0,74.0 68.0,76.0 C65.0,78.0 62.5,80.0 60.0,82.0 C57.5,84.0 55.5,86.8 53.0,88.0 C50.5,89.2 47.5,89.8 45.0,89.0 C42.5,88.2 40.0,86.2 38.0,83.0 C36.0,79.8 34.3,74.7 33.0,70.0 C31.7,65.3 31.0,60.7 30.0,55.0 C29.0,49.3 26.5,40.3 27.0,36.0Z" fill="#f59a2c"/>
<path d="M34.0,39.0 C34.3,36.0 36.5,35.2 38.0,34.0 C39.5,32.8 41.0,32.0 43.0,32.0 C45.0,32.0 47.5,32.8 50.0,34.0 C52.5,35.2 54.7,36.8 58.0,39.0 C61.3,41.2 67.3,44.8 70.0,47.0 C72.7,49.2 73.7,50.2 74.0,52.0 C74.3,53.8 73.7,56.2 72.0,58.0 C70.3,59.8 66.5,61.5 64.0,63.0 C61.5,64.5 58.8,65.2 57.0,67.0 C55.2,68.8 54.7,72.3 53.0,74.0 C51.3,75.7 48.8,77.2 47.0,77.0 C45.2,76.8 43.3,75.2 42.0,73.0 C40.7,70.8 40.0,67.5 39.0,64.0 C38.0,60.5 36.8,56.2 36.0,52.0 C35.2,47.8 33.7,42.0 34.0,39.0Z" fill="#ee3737"/>
</g>
</svg>
<rect x="1127" y="167.5" width="77.4" height="75.5" fill="none" stroke-width="2"/>
<rect x="1208" y="167.5" width="11.8" height="75.5" fill="url(#gbar)" stroke-width="2"/>
</g>

<!-- PRO PERSON -->
<g id="properson" stroke="#000" stroke-width="2.3" stroke-linejoin="round" stroke-linecap="round" fill="#fff">
<!-- halftone shadow -->
<ellipse cx="1170" cy="535.5" rx="45" ry="23" transform="rotate(-6 1170 535.5)" fill="url(#dots)" stroke="none"/>
<!-- shoes -->
<path d="M1138.1,531.9 C1139.3,530.3 1142.2,528.1 1145.0,527.5 C1147.8,526.9 1151.7,527.2 1155.0,528.5 C1158.3,529.8 1161.5,533.5 1165.0,535.0 C1168.5,536.5 1174.3,535.6 1176.2,537.5 C1178.2,539.4 1177.9,543.9 1176.9,546.2 C1175.8,548.6 1172.8,551.0 1170.0,551.5 C1167.2,552.0 1164.4,550.7 1160.0,549.0 C1155.6,547.3 1147.4,543.5 1143.8,541.5 C1140.1,539.5 1139.1,538.5 1138.1,536.9 C1137.2,535.3 1137.0,533.4 1138.1,531.9Z" fill="#000"/>
<path d="M1177.5,510.0 C1178.1,507.5 1181.2,508.1 1183.1,509.8 C1185.0,511.4 1186.6,517.6 1188.8,520.0 C1190.9,522.4 1193.8,524.0 1196.2,524.0 C1198.8,524.0 1202.4,519.0 1203.8,520.0 C1205.1,521.0 1205.3,527.3 1204.4,530.0 C1203.4,532.7 1200.7,535.6 1198.1,536.0 C1195.5,536.4 1191.9,534.3 1188.8,532.5 C1185.6,530.7 1181.2,528.8 1179.4,525.0 C1177.5,521.2 1176.9,512.5 1177.5,510.0Z" fill="#000"/>
<!-- legs / trousers -->
<path d="M1153,425 L1152.5,470 L1156.2,530 Q1165,538 1176.2,535 L1179,478 L1182,455 L1188,450 L1182,455 L1182.5,495 L1186.2,517.5 Q1196,524 1204.4,518.8 L1201,470 L1205,437.5 L1205,418 Z"/>
<!-- torso + arm -->
<path d="M1167.5,347.5 L1152.5,358.8 L1137.5,381.3 L1123.8,367.5 L1121.3,365 Q1117,365.5 1115,368.8 Q1112.5,373 1114.4,377.5 L1133.8,400 Q1138,404.5 1142.5,403.1 Q1147,401.5 1151.3,398.1 L1152.5,410 L1153,421 L1205,421 L1204.4,405 L1205,399.4 Q1211,398 1213.8,395 Q1217.5,391 1217.5,385 Q1217.5,380 1215,373.8 L1207.5,355 Q1205.5,348.5 1202.5,345 Q1198,341.5 1191.3,341.3 Z"/>
<!-- belt -->
<path d="M1156.9,419.4 Q1177.5,426 1201,412.5 L1202.5,418.8 Q1177.5,432.5 1155,425 Z"/>
<!-- pockets -->
<path d="M1166,435.6 L1182.5,434.4 L1182,448 L1175,453.8 L1166,448 Z" fill="none" stroke-width="2"/>
<path d="M1194.4,429.4 L1202.5,425 L1202,445 L1195,441 Z" fill="none" stroke-width="2"/>
<!-- back seams -->
<path d="M1206.2,355.0 C1206.1,358.8 1206.0,370.0 1205.6,377.5 C1205.2,385.0 1204.2,394.4 1203.8,400.0 C1203.3,405.6 1203.2,409.4 1203.1,411.2" fill="none"/>
<path d="M1191.9,371.2 C1191.7,374.8 1191.3,385.0 1191.0,392.5 C1190.7,400.0 1190.2,412.3 1190.0,416.2" fill="none" stroke-width="2"/>
<path d="M1167.5,377.5 C1170.4,376.8 1180.0,374.8 1185.0,373.1 C1190.0,371.5 1194.2,369.5 1197.5,367.5 C1200.8,365.5 1203.8,362.3 1205.0,361.2" fill="none"/>
<!-- collar -->
<path d="M1168.8,342.5 C1170.8,341.5 1176.5,342.8 1180.0,342.2 C1183.5,341.7 1188.1,339.1 1190.0,339.4 C1191.9,339.6 1192.8,342.4 1191.5,343.8 C1190.2,345.1 1186.5,346.7 1182.5,347.5 C1178.5,348.3 1169.8,349.2 1167.5,348.4 C1165.2,347.5 1166.7,343.5 1168.8,342.5Z"/>
<!-- arm details -->
<path d="M1142.5,403.1 Q1156,396 1165,383.8" fill="none"/>
<path d="M1156.3,358.1 Q1163.5,359 1165.6,367.5" fill="none"/>
<path d="M1137.5,381.2 L1147.5,371.2 L1153.8,376.5 L1145.0,385.9" fill="none" stroke-width="2"/>
<path d="M1124.4,367.5 Q1119,371 1118.2,380.5" fill="none"/>
<!-- handle below fist -->
<path d="M1106.9,372.7 C1108.4,371.5 1115.1,373.8 1117.0,376.0 C1118.9,378.3 1119.1,384.0 1118.3,386.1 C1117.6,388.2 1114.2,389.1 1112.5,388.6 C1110.7,388.0 1108.7,385.6 1107.8,383.0 C1106.9,380.3 1105.4,373.8 1106.9,372.7Z" fill="#b5b5b5"/>
<!-- head -->
<path d="M1160.0,306.9 C1158.1,307.5 1159.7,312.2 1158.8,315.0 C1157.8,317.8 1154.3,321.6 1154.4,323.8 C1154.5,325.9 1158.6,326.7 1159.4,328.1 C1160.1,329.6 1158.2,331.1 1158.8,332.5 C1159.3,333.9 1160.6,335.2 1162.5,336.5 C1164.4,337.8 1167.7,339.6 1170.0,340.0 C1172.3,340.4 1175.2,340.8 1176.2,338.8 C1177.3,336.7 1177.3,332.1 1176.2,327.5 C1175.2,322.9 1172.7,314.7 1170.0,311.2 C1167.3,307.8 1161.9,306.2 1160.0,306.9Z"/>
<path d="M1158.2,302.5 C1159.5,300.2 1162.9,297.0 1166.5,295.8 C1170.1,294.5 1175.8,293.9 1180.0,294.8 C1184.2,295.6 1188.7,298.0 1191.5,301.0 C1194.3,304.0 1196.3,308.6 1197.0,312.8 C1197.7,316.9 1197.1,322.0 1195.5,326.0 C1193.9,330.0 1190.2,334.6 1187.2,336.5 C1184.3,338.4 1180.2,338.2 1177.8,337.5 C1175.2,336.8 1172.7,334.1 1172.2,332.5 C1171.8,330.9 1175.1,329.6 1175.0,328.1 C1174.9,326.7 1173.1,325.5 1171.9,323.8 C1170.6,322.0 1169.0,319.8 1167.5,317.5 C1166.0,315.2 1164.1,311.5 1162.8,310.2 C1161.4,309.0 1160.0,311.0 1159.2,309.8 C1158.5,308.5 1157.0,304.8 1158.2,302.5Z" fill="#000"/>
<path d="M1161.5,317 l2.2,0.4" fill="none" stroke-width="1.8"/>
<path d="M1160.5,331 l3,0.8" fill="none" stroke-width="1.6"/>
</g>

<!-- THERMAL CAMERA -->
<g id="camera" stroke="#000" stroke-width="2.3" stroke-linejoin="round" stroke-linecap="round">
<path d="M1070.6,298.8 C1072.4,295.9 1075.9,291.8 1079.4,290.6 C1082.8,289.5 1087.3,291.2 1091.2,291.9 C1095.2,292.6 1102.8,292.7 1103.1,294.8 C1103.4,296.8 1095.3,300.6 1093.1,304.4 C1090.9,308.2 1090.8,312.8 1090.0,317.5 C1089.2,322.2 1090.3,331.0 1088.1,332.5 C1085.9,334.0 1079.9,328.8 1076.9,326.2 C1073.9,323.8 1071.4,320.6 1070.0,317.5 C1068.6,314.4 1068.4,310.6 1068.5,307.5 C1068.6,304.4 1068.8,301.6 1070.6,298.8Z" fill="#bbb"/>
<path d="M1080.0,292.2 L1100.6,296.0 L1091.9,304.0 L1077.8,302.2Z" fill="#d9d9d9" stroke-width="1.6"/>
<path d="M1077.8,302.2 C1077.5,304.0 1076.2,309.0 1076.2,312.5 C1076.3,316.0 1077.8,321.4 1078.1,323.1" fill="none" stroke-width="1.6"/>
<path d="M1091.9,305.0 C1093.4,301.7 1096.6,299.8 1100.0,297.5 C1103.4,295.2 1109.1,292.2 1112.5,291.5 C1115.9,290.8 1118.7,292.1 1120.6,293.5 C1122.5,294.9 1122.8,295.4 1124.0,300.0 C1125.2,304.6 1127.3,316.7 1127.8,321.2 C1128.2,325.8 1127.8,324.6 1126.5,327.5 C1125.2,330.4 1121.6,335.0 1120.2,338.8 C1118.9,342.5 1119.3,347.2 1118.5,350.0 C1117.7,352.8 1116.6,354.4 1115.2,355.2 C1113.9,356.1 1111.3,356.5 1110.2,355.0 C1109.2,353.5 1110.5,348.2 1108.8,346.5 C1107.0,344.8 1102.7,346.3 1100.0,345.0 C1097.3,343.7 1094.3,343.3 1092.8,338.8 C1091.2,334.2 1090.8,323.1 1090.6,317.5 C1090.5,311.9 1090.3,308.3 1091.9,305.0Z" fill="#c4c4c4" stroke-width="2.6"/>
<path d="M1097.2,309.0 C1100.2,304.9 1109.7,298.3 1113.8,296.9 C1117.8,295.4 1119.7,296.0 1121.5,300.2 C1123.3,304.5 1125.4,316.1 1124.8,322.5 C1124.1,328.9 1119.3,333.8 1117.8,338.5 C1116.2,343.2 1116.3,348.6 1115.2,350.8 C1114.2,352.9 1112.3,352.6 1111.5,351.5 C1110.7,350.4 1112.1,346.1 1110.2,344.4 C1108.4,342.6 1102.6,344.9 1100.2,341.0 C1097.9,337.1 1096.4,326.6 1095.9,321.2 C1095.4,315.9 1094.3,313.1 1097.2,309.0Z" fill="#dadada" stroke-width="1.5"/>
<path d="M1101.2,313.1 L1119.4,303.1 L1121.9,325.6 L1102.5,335.0Z" fill="#35b2d8" stroke-width="3"/>
<g stroke="none">
<path d="M1103.5,318.8 C1104.2,316.3 1106.6,314.1 1108.8,312.8 C1110.9,311.4 1114.5,309.8 1116.2,310.6 C1118.0,311.4 1118.9,315.1 1119.0,317.5 C1119.1,319.9 1118.6,323.1 1116.9,325.0 C1115.2,326.9 1110.8,328.6 1108.8,329.0 C1106.7,329.4 1105.4,329.2 1104.5,327.5 C1103.6,325.8 1102.8,321.2 1103.5,318.8Z" fill="#f4d22a"/>
<path d="M1105.0,317.5 C1105.8,315.2 1109.1,313.4 1111.2,312.8 C1113.4,312.1 1116.9,312.3 1118.1,313.8 C1119.3,315.2 1119.4,319.0 1118.5,321.2 C1117.6,323.5 1114.5,326.4 1112.5,327.2 C1110.5,328.1 1107.5,327.9 1106.2,326.2 C1105.0,324.6 1104.2,319.8 1105.0,317.5Z" fill="#f5922a"/>
<path d="M1107.2,317.5 C1107.9,316.1 1110.4,315.2 1111.9,315.0 C1113.3,314.8 1115.5,315.2 1116.0,316.2 C1116.5,317.3 1115.8,319.8 1115.0,321.2 C1114.2,322.7 1112.5,324.7 1111.2,325.0 C1110.0,325.3 1108.4,324.4 1107.8,323.1 C1107.1,321.9 1106.6,318.9 1107.2,317.5Z" fill="#f04a2a"/>
</g>
<path d="M1101.2,313.1 L1119.4,303.1 L1121.9,325.6 L1102.5,335.0Z" fill="none" stroke-width="2.2"/>
<ellipse cx="1113.8" cy="339.4" rx="2.6" ry="4" transform="rotate(15 1113.8 339.4)" fill="#d8d8d8" stroke-width="1.8"/>
<path d="M1104.0,341.5 L1107.2,339.4 L1107.0,343.1Z M1118.1,333.1 L1121.9,331.0 L1120.8,335.0Z" fill="#000" stroke-width="1"/>
<!-- fist -->
<path d="M1100.7,352.5 C1101.7,350.9 1104.0,349.4 1106.0,349.8 C1108.0,350.2 1110.4,354.3 1112.5,355.0 C1114.6,355.6 1116.9,354.0 1118.7,353.6 C1120.4,353.2 1122.0,350.8 1122.8,352.7 C1123.6,354.6 1124.4,362.1 1123.5,364.8 C1122.5,367.6 1118.6,368.0 1117.0,369.3 C1115.3,370.6 1115.1,372.1 1113.6,372.7 C1112.1,373.2 1109.9,373.4 1108.0,372.7 C1106.1,371.9 1103.7,370.4 1102.4,368.2 C1101.1,365.9 1100.4,361.8 1100.2,359.2 C1099.9,356.6 1099.8,354.1 1100.7,352.5Z" fill="#fff"/>
<path d="M1103.0,357.0 C1102.8,357.7 1101.8,360.1 1101.8,361.5 C1101.9,362.8 1103.2,364.3 1103.5,364.8" fill="none" stroke-width="1.6"/>
</g>

<!-- DIY PERSON -->
<g id="diyperson" stroke="#000" stroke-width="2.3" stroke-linejoin="round" stroke-linecap="round" fill="#fff">
<!-- halftone shadow -->
<ellipse cx="808" cy="663" rx="70" ry="22" transform="rotate(-9 808 663)" fill="url(#dots)" stroke="none"/>
<!-- back shoe -->
<path d="M847.5,629.8 C848.3,627.2 856.7,622.1 860.0,622.0 C863.3,621.9 865.9,624.8 867.5,629.0 C869.1,633.2 870.3,642.3 869.5,647.5 C868.7,652.7 865.5,658.5 862.8,660.2 C860.0,662.0 854.9,659.5 853.1,657.8 C851.3,656.0 851.6,653.4 851.9,650.0 C852.2,646.6 855.7,640.9 855.0,637.5 C854.3,634.1 846.7,632.3 847.5,629.8Z" fill="#000"/>
<!-- kneeling leg (right leg) -->
<path d="M810.0,625.6 C814.1,620.0 818.8,620.3 825.0,618.8 C831.2,617.2 843.6,614.5 847.5,616.2 C851.4,618.0 846.9,626.0 848.1,629.4 C849.4,632.7 854.2,632.8 855.0,636.2 C855.8,639.7 855.6,646.2 853.1,650.0 C850.6,653.8 844.7,654.8 840.0,658.8 C835.3,662.7 829.2,670.5 825.0,673.8 C820.8,677.0 818.3,677.8 815.0,678.2 C811.7,678.7 807.9,678.7 805.0,676.5 C802.1,674.3 798.5,669.2 797.8,665.2 C797.0,661.2 798.2,659.1 800.2,652.5 C802.3,645.9 805.9,631.2 810.0,625.6Z"/>
<path d="M826.9,657.5 L847.5,630.0" fill="none"/>
<!-- front leg (left leg): thigh+shin -->
<path d="M758.1,603.8 L756.9,610.0 L765.0,650.0 L785.0,649.0 L782.5,621.2 L810.0,629.0 L811.2,618.8 L782.5,607.5Z"/>
<path d="M810.0,629.0 L810.2,624.0" fill="none"/>
<!-- front shoe -->
<path d="M749.4,668.1 C749.4,665.8 752.4,662.8 755.0,660.0 C757.6,657.2 761.7,653.0 765.0,651.5 C768.3,650.0 771.7,651.6 775.0,651.2 C778.3,650.9 783.2,647.7 785.0,649.4 C786.8,651.0 788.3,657.8 786.0,661.2 C783.7,664.7 776.4,668.1 771.2,670.2 C766.1,672.4 758.6,674.4 755.0,674.0 C751.4,673.6 749.4,670.5 749.4,668.1Z" fill="#000"/>
<!-- torso -->
<path d="M790.0,543.8 C792.7,540.8 797.9,537.3 801.2,536.2 C804.6,535.2 804.8,537.4 810.0,537.5 C815.2,537.6 826.7,535.4 832.5,536.9 C838.3,538.3 841.7,543.2 845.0,546.2 C848.3,549.3 850.3,549.8 852.5,555.0 C854.7,560.2 857.1,571.2 858.1,577.5 C859.2,583.8 860.1,587.9 858.8,592.5 C857.4,597.1 852.1,601.2 850.0,605.0 C847.9,608.8 850.8,613.1 846.2,615.0 C841.7,616.9 828.5,617.1 822.5,616.2 C816.5,615.4 814.6,616.5 810.0,610.0 C805.4,603.5 799.2,586.9 795.0,577.5 C790.8,568.1 785.8,559.4 785.0,553.8 C784.2,548.1 787.3,546.7 790.0,543.8Z"/>
<!-- belt / hem -->
<path d="M823.8,610.0 C825.6,610.2 831.2,611.3 835.0,611.5 C838.8,611.7 844.4,611.3 846.2,611.2" fill="none"/>
<path d="M820.0,615.0 C822.1,615.2 828.2,616.3 832.5,616.5 C836.8,616.7 843.4,616.1 845.6,616.0" fill="none"/>
<!-- shirt pocket -->
<path d="M816.2,564.4 L832.5,570.0 L831.2,586.5 L820.0,582.5Z" fill="none" stroke-width="2"/>
<path d="M818.1,569.0 L830.2,573.1" fill="none" stroke-width="2"/>
<path d="M795.0,552.5 L796.5,558.8 L803.5,561.5 L804.0,565.0" fill="none" stroke-width="2"/>
<!-- placket -->
<path d="M809.4,540.0 L809.4,568.8" fill="none"/>
<!-- sleeve creases -->
<path d="M842.5,545.6 C841.8,546.1 839.3,547.5 838.1,548.8 C837.0,550.0 836.0,552.4 835.6,553.1" fill="none"/>
<path d="M835.0,566.9 C835.6,568.6 837.9,574.8 838.8,577.5 C839.6,580.2 839.2,582.1 840.0,583.1 C840.8,584.2 843.1,583.6 843.8,583.8" fill="none"/>
<!-- right forearm -->
<path d="M843.8,583.8 C840.4,584.8 836.0,588.1 832.5,590.0 C829.0,591.9 822.9,592.3 822.5,595.0 C822.1,597.7 826.7,604.8 830.0,606.2 C833.3,607.8 839.2,604.6 842.5,604.0 C845.8,603.4 847.5,604.4 850.0,602.5 C852.5,600.6 857.1,595.6 857.5,592.5 C857.9,589.4 854.8,585.2 852.5,583.8 C850.2,582.3 847.1,582.7 843.8,583.8Z" stroke="none"/>
<path d="M843.8,583.8 C841.9,584.8 836.0,588.1 832.5,590.0 C829.0,591.9 824.2,594.2 822.5,595.0" fill="none"/>
<path d="M857.5,592.5 C856.2,594.2 852.9,600.5 850.0,602.5 C847.1,604.5 843.3,604.1 840.0,604.8 C836.7,605.4 831.7,606.0 830.0,606.2" fill="none"/>
<path d="M825.2,594.0 C826.0,594.8 829.0,596.9 830.0,598.8 C831.0,600.6 831.2,604.0 831.5,605.0" fill="none"/>
<!-- roll body -->
<path d="M761.2,541.9 C754.6,539.6 749.4,541.0 745.0,542.8 C740.6,544.5 737.4,548.0 735.0,552.5 C732.6,557.0 730.4,565.0 730.6,570.0 C730.8,575.0 732.0,577.7 736.2,582.5 C740.5,587.3 748.1,593.3 756.2,598.8 C764.4,604.2 778.5,611.5 785.0,615.0 C791.5,618.5 790.8,620.0 795.0,620.0 C799.2,620.0 805.8,618.3 810.0,615.0 C814.2,611.7 818.1,605.6 820.0,600.0 C821.9,594.4 822.9,586.2 821.2,581.2 C819.6,576.2 816.0,574.2 810.0,570.0 C804.0,565.8 793.1,560.9 785.0,556.2 C776.9,551.6 767.9,544.1 761.2,541.9Z"/>
<!-- roll end face rings -->
<ellipse cx="803" cy="595.5" rx="19" ry="25.5" transform="rotate(24 803 595.5)"/>
<ellipse cx="804" cy="596.5" rx="13" ry="19.5" transform="rotate(24 804 596.5)" fill="none"/>
<ellipse cx="804.5" cy="597" rx="7.2" ry="11.5" transform="rotate(24 804.5 597)" fill="none"/>
<path d="M807.5,592.5 C806.8,592.9 803.8,593.8 803.1,595.0 C802.5,596.2 803.0,599.0 803.8,600.0 C804.5,601.0 806.9,601.0 807.5,601.2" fill="none"/>
<path d="M770.0,553.1 C771.0,553.5 773.8,555.4 776.2,555.6 C778.8,555.9 783.5,554.9 785.0,554.8" fill="none"/>
<path d="M739.4,571.2 C739.8,572.1 740.8,574.8 741.9,576.2 C742.9,577.7 745.0,579.4 745.6,580.0" fill="none"/>
<!-- left hand fingers -->
<path d="M738.8,586.2 C739.4,585.1 740.6,583.1 742.5,583.1 C744.4,583.1 747.8,584.7 750.0,586.2 C752.2,587.8 754.6,590.4 755.6,592.5 C756.7,594.6 757.2,597.7 756.2,598.8 C755.3,599.8 752.3,599.4 750.0,598.8 C747.7,598.1 744.4,596.5 742.5,595.0 C740.6,593.5 739.4,591.5 738.8,590.0 C738.1,588.5 738.1,587.4 738.8,586.2Z"/>
<path d="M743.1,585.6 L744.4,592.5 M746.9,587.5 L749.0,595.0 M751.2,590.0 L753.5,596.9" fill="none" stroke-width="1.8"/>
<!-- right hand -->
<path d="M806.2,596.9 C807.9,596.1 812.3,595.7 815.0,595.6 C817.7,595.5 821.0,595.1 822.5,596.2 C824.0,597.4 824.6,600.2 824.0,602.5 C823.4,604.8 821.1,607.9 818.8,610.0 C816.4,612.1 813.1,614.5 810.0,615.0 C806.9,615.5 802.1,614.2 800.0,613.1 C797.9,612.1 796.2,610.1 797.5,608.8 C798.8,607.4 806.2,606.5 807.5,605.0 C808.8,603.5 805.2,601.4 805.0,600.0 C804.8,598.6 804.6,597.6 806.2,596.9Z"/>
<path d="M798.1,608.5 L808.1,606.2 M799.0,611.0 L809.4,609.4 M802.5,613.5 L810.0,612.5" fill="none" stroke-width="1.8"/>
<!-- neck -->
<path d="M809.8,530.0 L810.0,538.1 L818.8,540.0 L827.8,532.5 L826.2,522.5Z" stroke-width="2"/>
<!-- collars -->
<path d="M803.1,533.1 L800.6,544.0 L807.5,541.5 L810.2,538.1Z"/>
<path d="M827.5,530.0 L831.0,534.0 L821.2,550.2 L814.8,545.0 L810.2,538.1 L818.8,537.5Z"/>
<!-- head -->
<path d="M796.5,500.0 C798.6,498.0 803.0,497.3 807.5,498.1 C812.0,499.0 820.6,502.5 823.8,505.0 C826.9,507.5 825.2,511.5 826.2,513.1 C827.3,514.8 829.6,513.8 830.2,515.0 C830.9,516.2 830.7,519.4 830.0,520.6 C829.3,521.9 827.9,521.2 826.2,522.5 C824.6,523.8 822.7,527.0 820.0,528.5 C817.3,530.0 813.1,531.5 810.0,531.5 C806.9,531.5 803.6,530.7 801.2,528.8 C798.9,526.8 796.7,523.1 795.6,520.0 C794.6,516.9 794.9,513.3 795.0,510.0 C795.1,506.7 794.4,502.0 796.5,500.0Z"/>
<!-- hair -->
<path d="M823.8,505.2 C825.4,504.6 833.2,505.9 834.8,507.2 C836.3,508.6 834.2,512.0 833.1,513.1 C832.0,514.2 829.5,514.3 828.1,514.0 C826.8,513.7 825.7,512.7 825.0,511.2 C824.3,509.8 822.1,505.9 823.8,505.2Z" fill="#000"/>
<!-- cap -->
<path d="M798.8,491.5 C798.5,489.6 802.3,484.6 805.0,482.5 C807.7,480.4 811.2,479.0 815.0,479.0 C818.8,479.0 824.1,480.2 827.5,482.5 C830.9,484.8 834.1,489.4 835.6,492.5 C837.1,495.6 836.7,498.8 836.5,501.2 C836.3,503.8 836.3,506.8 834.4,507.5 C832.5,508.2 828.2,507.1 825.0,505.6 C821.8,504.2 818.1,500.7 815.0,498.8 C811.9,496.8 809.0,495.0 806.2,493.8 C803.5,492.5 799.0,493.4 798.8,491.5Z"/>
<path d="M786.2,496.9 C786.8,495.8 787.7,494.1 790.0,493.1 C792.3,492.2 795.8,490.6 800.0,491.2 C804.2,491.9 810.6,494.7 815.0,496.9 C819.4,499.1 824.6,502.8 826.2,504.4 C827.9,505.9 826.6,505.9 824.8,506.2 C822.9,506.6 818.1,507.1 815.0,506.2 C811.9,505.4 809.2,502.5 806.2,501.2 C803.3,500.0 800.2,499.1 797.5,499.0 C794.8,498.9 791.8,500.5 790.0,500.6 C788.2,500.8 787.5,500.4 786.9,499.8 C786.2,499.1 785.7,498.0 786.2,496.9Z"/>
<path d="M786.2,496.9 C786.6,496.0 788.0,494.6 789.0,494.2 C790.0,493.9 791.6,494.1 792.2,494.8 C792.9,495.4 793.4,497.0 793.0,498.0 C792.6,499.0 790.8,500.2 789.8,500.5 C788.7,500.8 787.5,500.4 786.9,499.8 C786.3,499.1 785.9,497.8 786.2,496.9Z" fill="#000"/>
<!-- face details -->
<circle cx="801.3" cy="508.8" r="1.7" fill="#000" stroke="none"/>
<circle cx="812.5" cy="511.3" r="1.7" fill="#000" stroke="none"/>
<path d="M797.8,505.8 L802.8,504.5 M811.0,506.5 L818.8,509.0" fill="none" stroke-width="1.8"/>
<path d="M803.5,514.8 C803.3,515.1 802.4,516.4 802.5,516.9 C802.6,517.4 803.8,517.6 804.0,517.8" fill="none" stroke-width="1.6"/>
<ellipse cx="805.8" cy="523.8" rx="3.4" ry="2.3" transform="rotate(20 805.8 523.8)" stroke-width="1.8"/>
</g>

<!-- DROPS & LABELS -->
<g id="drops" fill="#b0dbe5" stroke="#000" stroke-width="2" stroke-linejoin="round">
<path d="M400.0,500.0 C401.8,505.0 406.6,510.5 406.6,515.4 A6.6,6.6 0 1 1 393.4,515.4 C393.4,510.5 398.2,505.0 400.0,500.0Z"/>
<path d="M540.5,432.5 C541.7,435.9 545.0,439.7 545.0,443.0 A4.5,4.5 0 1 1 536.0,443.0 C536.0,439.7 539.3,435.9 540.5,432.5Z"/>
<path d="M532.5,453.8 C533.8,457.4 537.3,461.4 537.3,465.0 A4.8,4.8 0 1 1 527.7,465.0 C527.7,461.4 531.2,457.4 532.5,453.8Z"/>
<path d="M448.0,542.8 C449.2,546.1 452.4,549.7 452.4,552.9 A4.3,4.3 0 1 1 443.6,552.9 C443.6,549.7 446.8,546.1 448.0,542.8Z"/>
<path d="M393.0,577.0 C394.6,581.3 398.7,586.1 398.7,590.3 A5.7,5.7 0 1 1 387.3,590.3 C387.3,586.1 391.4,581.3 393.0,577.0Z"/>
<path d="M402.5,600.0 C403.6,603.1 406.6,606.4 406.6,609.5 A4.0,4.0 0 1 1 398.4,609.5 C398.4,606.4 401.4,603.1 402.5,600.0Z"/>
<path d="M440.8,591.0 C441.9,594.1 444.9,597.6 444.9,600.7 A4.1,4.1 0 1 1 436.7,600.7 C436.7,597.6 439.7,594.1 440.8,591.0Z"/>
<path d="M673.8,351.0 C675.0,354.4 678.3,358.2 678.3,361.5 A4.5,4.5 0 1 1 669.3,361.5 C669.3,358.2 672.6,354.4 673.8,351.0Z"/>
<path d="M678.0,385.0 C679.6,389.5 684.0,394.5 684.0,399.0 A6.0,6.0 0 1 1 672.0,399.0 C672.0,394.5 676.4,389.5 678.0,385.0Z"/>
</g>
<g id="smallmarks" fill="#6fc0e6" stroke="none">
<path d="M439,482 q2.5,3 2,6 q-2.5,2 -3.5,-1 z M447.5,517 q2,3 0.5,7 q-3,0 -2,-3 z"/>
<path d="M640.5,375 q1.5,8 -1,20 q-1.5,-10 1,-20 z" fill="#9fd3e8"/>
</g>
<g id="labels" font-weight="700" fill="#000" stroke="#fff" stroke-width="2.2" paint-order="stroke" stroke-linejoin="round">
<text x="360" y="496.5" font-size="18.2">結露</text>
<text x="350.5" y="578.3" font-size="17.8">湿気</text>
<text x="677" y="344.2" font-size="17.8">結露</text>
<text x="686" y="385.5" font-size="18.2">湿気</text>
<text x="369" y="665.2" font-size="23.5" stroke-width="3">冷</text>
<text x="356.4" y="684.2" font-size="15.4" textLength="48.8" lengthAdjust="spacingAndGlyphs" stroke-width="1">(COLD)</text>
<text x="709.5" y="481" font-size="23.5">冷</text>
<text x="696.8" y="498.3" font-size="15.4" textLength="48.4" lengthAdjust="spacingAndGlyphs" stroke-width="1">(COLD)</text>
<text x="621" y="607.5" font-size="22.5" stroke="none">熱</text>
<text x="612.5" y="625.8" font-size="15.2" textLength="40" lengthAdjust="spacingAndGlyphs" stroke="none">(HOT)</text>
<text x="873" y="601" font-size="29.5" textLength="43.6" lengthAdjust="spacingAndGlyphs" stroke="none">DIY</text>
<text x="1025" y="434.3" font-size="25.5" stroke="none">プロ</text>
</g>

<!-- ILLUSTRATION -->
</svg>
</body>
</html>
